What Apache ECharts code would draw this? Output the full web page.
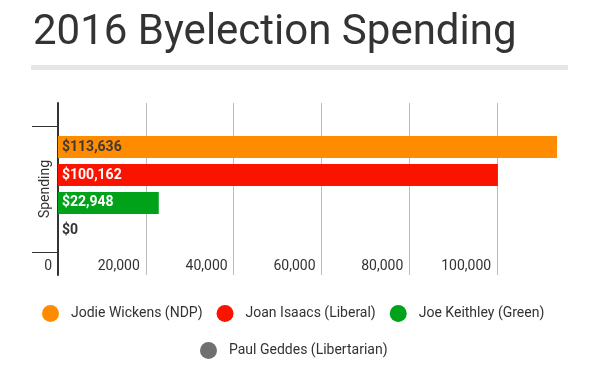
<!DOCTYPE html>
<html>
<head>
<meta charset="utf-8">
<script src="https://cdn.jsdelivr.net/npm/echarts@6/dist/echarts.min.js"></script>
<style>
html,body{margin:0;padding:0;background:#fff;}
#chart{width:600px;height:373px;}
</style>
</head>
<body>
<div id="chart"></div>
<script>
const titleText = '2016 Byelection Spending';
const categories = ['Spending'];
const seriesNames = ['Jodie Wickens (NDP)', 'Joan Isaacs (Liberal)', 'Joe Keithley (Green)', 'Paul Geddes (Libertarian)'];
const seriesValues = [113636, 100162, 22948, 0];
const seriesColors = ['#ff8c00', '#fa1400', '#00a21a', '#707070'];
const labelColors = ['#3a3a3a', '#ffffff', '#ffffff', '#333333'];
const xTicks = [0, 20000, 40000, 60000, 80000, 100000, 120000];

const chart = echarts.init(document.getElementById('chart'));
const FONT = 'Roboto';

const series = seriesNames.map((name, i) => ({
  name: name,
  type: 'bar',
  xAxisIndex: 1,
  yAxisIndex: 1,
  barWidth: 22,
  barGap: '27%',
  data: [seriesValues[i]],
  itemStyle: { color: seriesColors[i] },
  label: {
    show: true,
    position: 'insideLeft',
    distance: 4,
    color: labelColors[i],
    fontFamily: FONT,
    fontSize: 14,
    fontWeight: 'bold',
    formatter: p => '$' + p.value.toLocaleString('en-US')
  }
}));

const legendText = { fontFamily: FONT, fontSize: 14, color: '#333', padding: [0, 0, 0, 7] };

const option = {
  backgroundColor: '#fff',
  animation: false,
  title: {
    text: titleText,
    left: 28,
    top: 7,
    textStyle: { fontFamily: FONT, fontSize: 42, fontWeight: 'normal', color: '#333' }
  },
  graphic: [{
    type: 'rect',
    shape: { x: 31, y: 65, width: 537, height: 5 },
    style: { fill: '#e6e6e6' }
  }],
  legend: [{
    data: seriesNames.slice(0, 3),
    top: 300,
    left: 37,
    icon: 'circle',
    itemWidth: 17,
    itemHeight: 17,
    itemGap: 14,
    textStyle: legendText
  }, {
    data: seriesNames.slice(3),
    top: 337,
    left: 195,
    icon: 'circle',
    itemWidth: 17,
    itemHeight: 17,
    textStyle: legendText
  }],
  grid: [
    { left: 58, right: 15, top: 103, bottom: 98 },
    { left: 58, right: 15, top: 126, bottom: 121 }
  ],
  xAxis: [{
    gridIndex: 0,
    type: 'value',
    min: xTicks[0],
    max: xTicks[xTicks.length - 1],
    interval: xTicks[1] - xTicks[0],
    axisLine: { show: false },
    axisTick: { show: false },
    axisLabel: { show: false },
    splitLine: { show: true, showMinLine: false, showMaxLine: false, lineStyle: { color: '#bdbdbd', width: 1 } }
  }, {
    gridIndex: 1,
    type: 'value',
    min: xTicks[0],
    max: xTicks[xTicks.length - 1],
    interval: xTicks[1] - xTicks[0],
    axisLine: { show: false },
    axisTick: { show: false },
    splitLine: { show: false },
    axisLabel: {
      show: true,
      showMaxLabel: false,
      margin: 7,
      align: 'right',
      padding: [0, 6, 0, 0],
      fontFamily: FONT,
      fontSize: 14,
      color: '#333',
      formatter: v => v.toLocaleString('en-US')
    }
  }],
  yAxis: [{
    gridIndex: 0,
    type: 'category',
    data: categories,
    axisLine: { show: true, lineStyle: { color: '#333', width: 2 } },
    axisTick: { show: false },
    axisLabel: { show: false },
    splitLine: { show: false }
  }, {
    gridIndex: 1,
    type: 'category',
    data: categories,
    inverse: true,
    axisLine: { show: false },
    axisTick: { show: true, length: 26, lineStyle: { color: '#333', width: 1 } },
    axisLabel: {
      show: true,
      rotate: 90,
      margin: 6,
      fontFamily: FONT,
      fontSize: 14,
      color: '#333'
    }
  }],
  series: series
};
chart.setOption(option);
</script>
</body>
</html>
